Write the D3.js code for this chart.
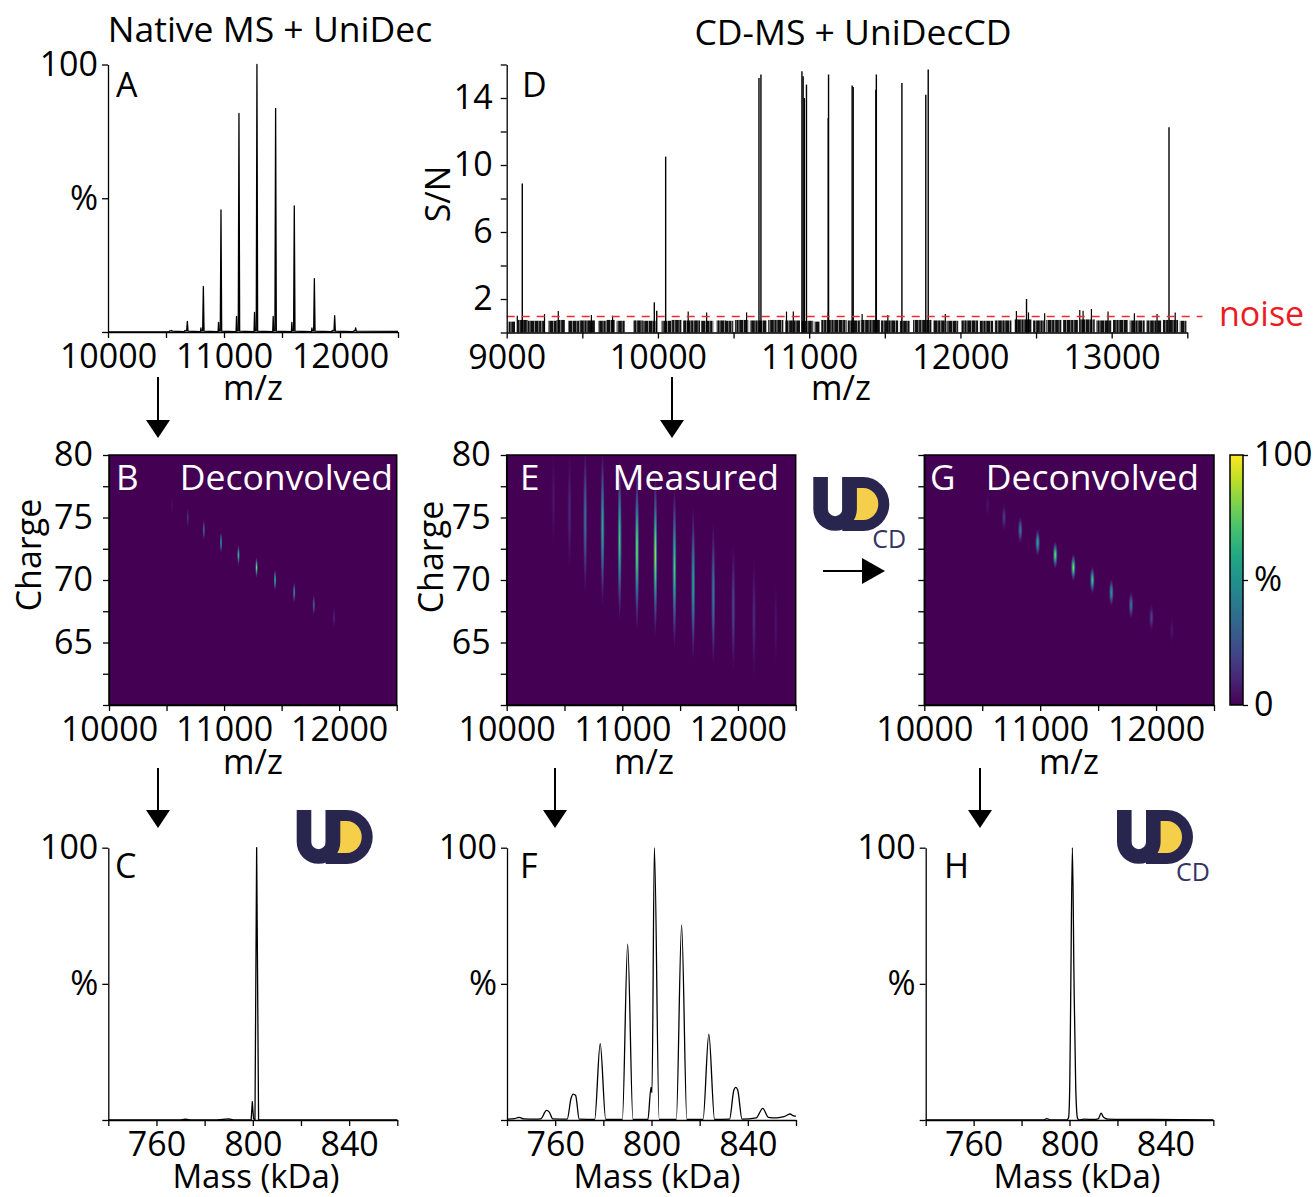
<!DOCTYPE html>
<html><head><meta charset="utf-8">
<script src="https://cdn.jsdelivr.net/npm/d3@7"></script>
<style>body{margin:0;background:#fff} svg{display:block} text{font-family:'Open Sans',sans-serif;}</style>
</head><body><svg id="c" width="1314" height="1197"></svg>
<script>
// ---------------- DATA ----------------
const titles = ["Native MS + UniDec", "CD-MS + UniDecCD"];
const mzTicks = [10000, 10500, 11000, 11500, 12000, 12500];
const mzLabels = [10000, 11000, 12000];
const mzTicksD = [9000, 9500, 10000, 10500, 11000, 11500, 12000, 12500, 13000, 13500];
const mzLabelsD = [9000, 10000, 11000, 12000, 13000];
const snTicks = [0, 2, 4, 6, 8, 10, 12, 14, 16];
const snLabels = [2, 6, 10, 14];
const chargeTicks = [60, 62.5, 65, 67.5, 70, 72.5, 75, 77.5, 80];
const chargeLabels = [65, 70, 75, 80];
const massTicks = [740, 760, 780, 800, 820, 840, 860];
const massLabels = [760, 800, 840];

// Panel A: native MS peaks (m/z, % intensity, shoulder %)
const A_mz  = [10549, 10684, 10822, 10974, 11129, 11284, 11445, 11606, 11779, 11954, 12135];
const A_int = [0.6, 4, 17, 45.6, 81.7, 100, 83.6, 47.1, 19.9, 6.1, 1.5];
const A_sh  = [0.2, 0.6, 1.5, 3.6, 5.8, 7.3, 5.8, 3.6, 1.5, 0.6, 0.2];

// Panel D: CD-MS signal lines (m/z, S/N)
const D_mz = [9103, 9976, 9992, 10051, 10668, 10681, 10952, 10960, 10968, 10982, 11126, 11128, 11284, 11291, 11441, 11444, 11613, 11771, 11787, 12437, 13379];
const D_sn = [8.9, 1.8, 1.3, 10.5, 15.2, 15.4, 15.6, 15.3, 14.0, 14.8, 12.8, 15.4, 14.75, 14.65, 14.5, 15.4, 14.9, 14.2, 15.7, 2.0, 12.25];
// Noise band segments (m/z start, m/z end, S/N)
const noiseSeg = [
  [9011,9055,0.65],[9071,9140,0.75],[9140,9253,0.7],[9275,9330,0.7],[9330,9385,0.75],[9407,9480,0.7],
  [9480,9583,0.72],[9605,9660,0.7],[9660,9716,0.75],[9727,9782,0.7],[9837,9900,0.72],[9900,9991,0.7],
  [10024,10090,0.7],[10090,10156,0.75],[10167,10278,0.72],[10284,10366,0.7],[10388,10450,0.72],[10450,10498,0.7],
  [10509,10597,0.75],[10608,10718,0.72],[10729,10829,0.75],[10840,10939,0.72],[10950,11027,0.7],[11035,11071,0.65],
  [11080,11248,0.75],[11255,11335,0.72],[11341,11467,0.75],[11474,11588,0.72],[11599,11665,0.7],[11687,11808,0.75],
  [11819,11897,0.72],[11908,11985,0.7],[12007,12117,0.72],[12128,12216,0.7],[12227,12337,0.72],[12359,12469,0.78],
  [12480,12557,0.72],[12568,12668,0.75],[12679,12778,0.75],[12789,12888,0.78],[12899,12998,0.72],[13009,13108,0.75],
  [13119,13218,0.72],[13229,13328,0.72],[13339,13439,0.75],[13450,13494,0.7]];
// Taller noise spikes (m/z, S/N)
const noiseSpk_mz = [9070, 9250, 9341, 9560, 9700, 10200, 10322, 10586, 10850, 10895, 11126, 11350, 11520, 11900, 12370, 12450, 12557, 12789, 12811, 12866, 12976, 13150, 13300, 13420];
const noiseSpk_sn = [1.0, 1.1, 1.28, 1.05, 1.0, 1.25, 1.2, 1.2, 1.25, 1.25, 1.2, 1.1, 1.05, 1.1, 1.28, 1.2, 1.15, 1.35, 1.3, 1.4, 1.25, 1.15, 1.1, 1.2];
const noiseLevel = 0.95;

// Panel B: deconvolved (native) m/z-charge blobs
const B_mz  = [10547, 10684, 10824, 10973, 11125, 11282, 11443, 11609, 11779, 11955];
const B_z   = [76, 75, 74, 73, 72, 71, 70, 69, 68, 67];
const B_int = [0.04, 0.15, 0.35, 0.55, 0.7, 0.85, 0.7, 0.5, 0.35, 0.12];
// Panel E: measured CD-MS streaks
const E_mz  = [10404, 10543, 10679, 10829, 10977, 11127, 11286, 11451, 11613, 11787, 11960, 12139, 12327];
const E_z   = [76.5, 75.5, 74.8, 74.2, 73.2, 72.4, 72, 71, 69.7, 68.9, 67.8, 67, 66.5];
const E_int = [0.06, 0.12, 0.38, 0.62, 0.75, 0.87, 0.9, 0.75, 0.6, 0.42, 0.22, 0.12, 0.05];
const E_zw  = [4, 5, 6, 6.3, 6.5, 6.5, 6.5, 6.5, 6.2, 5.8, 5.3, 5, 4];
// Panel G: deconvolved CD-MS blobs
const G_mz  = [10547, 10688, 10828, 10978, 11130, 11286, 11450, 11614, 11784, 11960, 12136];
const G_z   = [76, 75, 74, 73, 72, 71, 70, 69, 68, 67, 66];
const G_int = [0.05, 0.18, 0.4, 0.6, 0.85, 0.88, 0.75, 0.55, 0.4, 0.2, 0.06];

// Panel C: UniDec mass spectrum (kDa, %)
const C_mass = [740, 770, 772, 774, 785, 790, 792, 799.3, 799.8, 800.3, 800.9, 801.6, 802.4, 860];
const C_int  = [0, 0, 0.3, 0, 0, 0.4, 0, 0, 6.7, 0.5, 0, 100, 0, 0];
// Panel F: CD-MS direct mass spectrum
const F_mass = [740,743,745,747,752, 754,756.4,757.5,759, 765,766.6,767.5,768.5,770, 776.4,778.7,781,
  787.9,790.1,792.3, 798.5,799.8,800.2,801.2,803.2, 810.3,812.5,814.7, 821.4,823.8,826.2, 832.4,834.2,835,835.8,837.6,
  843.5,846.2,848.5, 852,855,857.5,859,860];
const F_int  = [0.3,0.5,1.0,0.4,0.3, 0.4,3.5,3.0,0.4, 0.3,8,9.5,9,0.3, 0.2,28,0.2,
  0.2,64.6,0.2, 0.2,12,10,100,0.2, 0.2,71.6,0.2, 0.2,31.5,0.2, 0.3,11,12,11,0.3,
  0.8,4.3,1.0, 0.8,1.2,2.2,1.5,1.4];
// Panel H: UniDecCD mass spectrum
const H_mass = [740, 789, 790.6, 792, 798.9, 799.6, 800.1, 800.5, 801.2, 801.9, 802.6, 803.3, 803.9, 806, 810, 812, 813.2, 814, 815, 816, 822, 830, 860];
const H_int  = [0, 0, 0.5, 0, 0, 0.8, 12, 45, 100, 50, 12, 0.8, 0, 0.3, 0.2, 0.4, 2.5, 1.2, 0.6, 0.3, 0.2, 0.2, 0];

// ---------------- DRAWING ----------------
const svg = d3.select("#c");
const defs = svg.append("defs");
const FONT = "Open Sans";
const viridis = d3.scaleSequential(d3.interpolateViridis).domain([0, 1]);

function styleAxis(sel) {
  sel.attr("font-family", FONT).attr("font-size", 34);
  sel.selectAll("path,line").attr("stroke", "#000").attr("stroke-width", 1.3);
  sel.selectAll("text").attr("fill", "#000");
}
function bottomAxis(g, x, y0, ticks, labels) {
  g.append("g").attr("transform", `translate(0,${y0})`)
    .call(d3.axisBottom(x).tickValues(ticks).tickFormat(d => labels.includes(d) ? String(d) : "")
      .tickSize(6).tickSizeOuter(0).tickPadding(6))
    .call(styleAxis);
}
function leftAxis(g, y, x0, ticks, fmt, pad) {
  g.append("g").attr("transform", `translate(${x0},0)`)
    .call(d3.axisLeft(y).tickValues(ticks).tickFormat(fmt).tickSize(6).tickSizeOuter(0).tickPadding(pad))
    .call(styleAxis);
}
function text(g, x, y, s, o = {}) {
  return g.append("text").attr("x", x).attr("y", y).text(s)
    .attr("font-family", FONT).attr("font-size", o.size || 34)
    .attr("fill", o.fill || "#000").attr("text-anchor", o.anchor || "start");
}
function vtext(g, x, y, s) {
  g.append("text").attr("transform", `translate(${x},${y}) rotate(-90)`).text(s)
    .attr("font-family", FONT).attr("font-size", 34).attr("text-anchor", "middle")
    .attr("dominant-baseline", "central");
}
function downArrow(g, x, y1, y2) {
  g.append("line").attr("x1", x).attr("x2", x).attr("y1", y1).attr("y2", y2 - 14)
    .attr("stroke", "#000").attr("stroke-width", 2);
  g.append("path").attr("d", `M${x - 12},${y2 - 18} L${x + 12},${y2 - 18} L${x},${y2} Z`).attr("fill", "#000");
}
function rightArrow(g, x1, x2, y) {
  g.append("line").attr("x1", x1).attr("x2", x2 - 18).attr("y1", y).attr("y2", y)
    .attr("stroke", "#000").attr("stroke-width", 2);
  g.append("path").attr("d", `M${x2 - 23},${y - 13} L${x2 - 23},${y + 13} L${x2},${y} Z`).attr("fill", "#000");
}
function logo(g, x0, y0, cd) {
  const l = g.append("g").attr("transform", `translate(${x0},${y0})`);
  l.append("path").attr("d", "M29,0 H50 A26,27 0 0 1 50,54 H29 Z").attr("fill", "#28264f");
  l.append("path").attr("d", "M36,11 H50 A15,16 0 0 1 50,43 H36 Z").attr("fill", "#f5cf4a");
  l.append("path").attr("d", "M7.3,0 V32 A14.5,14.5 0 0 0 36.3,32 V0").attr("fill", "none")
    .attr("stroke", "#28264f").attr("stroke-width", 14.6);
  if (cd) text(l, 59, 71, "CD", { size: 25, fill: "#35345f" });
}
let gradId = 0;
function blob(g, cx, cy, rx, ry, I) {
  const id = "bg" + (gradId++);
  const grad = defs.append("radialGradient").attr("id", id);
  [[0, 1], [0.25, 0.8], [0.5, 0.45], [0.75, 0.15], [1, 0]].forEach(([o, f]) =>
    grad.append("stop").attr("offset", o).attr("stop-color", viridis(I * f)));
  g.append("ellipse").attr("cx", cx).attr("cy", cy).attr("rx", rx).attr("ry", ry).attr("fill", `url(#${id})`);
}
function heatPanel(x, y, mzArr, zArr, IArr, smz, szArr) {
  const [x0, x1] = x.range(), [y0, y1] = y.range();
  const g = svg.append("g");
  const cid = "clip" + (gradId++);
  defs.append("clipPath").attr("id", cid).append("rect").attr("x", x0).attr("y", y1).attr("width", x1 - x0).attr("height", y0 - y1);
  g.append("rect").attr("x", x0).attr("y", y1).attr("width", x1 - x0).attr("height", y0 - y1).attr("fill", viridis(0));
  const gb = g.append("g").attr("clip-path", `url(#${cid})`);
  mzArr.forEach((m, i) => {
    const sz = Array.isArray(szArr) ? szArr[i] : szArr;
    blob(gb, x(m), y(zArr[i]), x(m + smz) - x(m), y(zArr[i]) - y(zArr[i] + sz), IArr[i]);
  });
  return g;
}
function frame(g, x, y) {
  const [x0, x1] = x.range(), [y0, y1] = y.range();
  g.append("rect").attr("x", x0).attr("y", y1).attr("width", x1 - x0).attr("height", y0 - y1)
    .attr("fill", "none").attr("stroke", "#000").attr("stroke-width", 1.5);
}
function spectrum(g, x, y, xs, ys, curve) {
  g.append("path").datum(xs.map((v, i) => [v, ys[i]]))
    .attr("d", d3.line().x(d => x(d[0])).y(d => y(d[1])).curve(curve))
    .attr("fill", "none").attr("stroke", "#000").attr("stroke-width", 1.3).attr("stroke-linejoin", "round");
}

// noise texture pattern (dense thin bars)
const pat = defs.append("pattern").attr("id", "noisePat").attr("patternUnits", "userSpaceOnUse")
  .attr("width", 19).attr("height", 40);
pat.append("rect").attr("width", 19).attr("height", 40).attr("fill", "#111");
[[2.2, 0.7], [6.5, 0.6], [9.4, 0.8], [13.8, 0.6], [16.6, 0.7]].forEach(([px, w]) =>
  pat.append("rect").attr("x", px).attr("width", w).attr("height", 40).attr("fill", "#bbb"));

// Titles
text(svg, 270, 42, titles[0], { size: 35.5, anchor: "middle" });
text(svg, 853, 45, titles[1], { size: 35.5, anchor: "middle" });

// ---- Panel A ----
{
  const g = svg.append("g");
  const x = d3.scaleLinear().domain([10000, 12500]).range([108, 398]);
  const y = d3.scaleLinear().domain([0, 100]).range([332, 64.5]);
  const pts = [[10000, 0]];
  A_mz.forEach((c, i) => pts.push([c - 25, 0.1], [c - 21, A_sh[i]], [c - 17, 0.4], [c - 6, 0.4], [c, A_int[i]], [c + 6, 0.3]));
  pts.push([12500, 0.2]);
  spectrum(g, x, y, pts.map(d => d[0]), pts.map(d => d[1]), d3.curveLinear);
  bottomAxis(g, x, 332, mzTicks, mzLabels);
  leftAxis(g, y, 108, [0, 50, 100], d => d === 100 ? "100" : d === 50 ? "%" : "", 4);
  text(g, 253, 400, "m/z", { anchor: "middle" });
  text(g, 116, 97, "A", { size: 34 });
}
// ---- Panel D ----
{
  const g = svg.append("g");
  const x = d3.scaleLinear().domain([9000, 13500]).range([506.7, 1187.3]);
  const y = d3.scaleLinear().domain([0, 16]).range([332.5, 64.5]);
  g.selectAll(".ns").data(noiseSeg).join("rect")
    .attr("x", d => x(d[0])).attr("width", d => x(d[1]) - x(d[0]))
    .attr("y", d => y(d[2])).attr("height", d => y(0) - y(d[2])).attr("fill", "url(#noisePat)");
  g.selectAll(".nk").data(noiseSpk_mz).join("line")
    .attr("x1", d => x(d)).attr("x2", d => x(d)).attr("y1", y(0)).attr("y2", (d, i) => y(noiseSpk_sn[i]))
    .attr("stroke", "#000").attr("stroke-width", 1.2);
  g.selectAll(".sg").data(D_mz).join("line")
    .attr("x1", d => x(d)).attr("x2", d => x(d)).attr("y1", y(0)).attr("y2", (d, i) => y(D_sn[i]))
    .attr("stroke", "#000").attr("stroke-width", 1.4);
  g.append("line").attr("x1", x(9000)).attr("x2", x(13600)).attr("y1", y(noiseLevel)).attr("y2", y(noiseLevel))
    .attr("stroke", "#ee2a2a").attr("stroke-width", 1.5).attr("stroke-dasharray", "8,7");
  text(g, 1219, 326, "noise", { size: 34, fill: "#ec1c24" });
  bottomAxis(g, x, 332.5, mzTicksD, mzLabelsD);
  leftAxis(g, y, 506.7, snTicks, d => snLabels.includes(d) ? String(d) : "", 8);
  text(g, 841, 400, "m/z", { anchor: "middle" });
  vtext(g, 437, 194, "S/N");
  text(g, 522, 97, "D", { size: 34 });
}
// ---- Panel B ----
{
  const x = d3.scaleLinear().domain([10000, 12500]).range([109, 396.7]);
  const y = d3.scaleLinear().domain([60, 80]).range([705, 455]);
  const g = heatPanel(x, y, B_mz, B_z, B_int, 13, 0.85);
  frame(g, x, y);
  bottomAxis(g, x, 705, mzTicks, mzLabels);
  leftAxis(g, y, 109, chargeTicks, d => chargeLabels.includes(d) ? String(d) : "", 10);
  text(g, 253, 774, "m/z", { anchor: "middle" });
  vtext(g, 28, 555, "Charge");
  text(g, 116, 490, "B", { size: 35, fill: "#fff" });
  text(g, 393, 490, "Deconvolved", { size: 35.5, fill: "#fff", anchor: "end" });
}
// ---- Panel E ----
{
  const x = d3.scaleLinear().domain([10000, 12500]).range([506.7, 795.7]);
  const y = d3.scaleLinear().domain([60, 80]).range([705, 455]);
  const g = heatPanel(x, y, E_mz, E_z, E_int, 20, E_zw);
  frame(g, x, y);
  bottomAxis(g, x, 705, mzTicks, mzLabels);
  leftAxis(g, y, 506.7, chargeTicks, d => chargeLabels.includes(d) ? String(d) : "", 10);
  text(g, 644, 774, "m/z", { anchor: "middle" });
  vtext(g, 430, 557, "Charge");
  text(g, 520, 490, "E", { size: 35, fill: "#fff" });
  text(g, 779, 490, "Measured", { size: 35.5, fill: "#fff", anchor: "end" });
}
// ---- Panel G ----
{
  const x = d3.scaleLinear().domain([10000, 12500]).range([924.3, 1214]);
  const y = d3.scaleLinear().domain([60, 80]).range([705, 455]);
  const g = heatPanel(x, y, G_mz, G_z, G_int, 22, 1.1);
  frame(g, x, y);
  bottomAxis(g, x, 705, mzTicks, mzLabels);
  leftAxis(g, y, 924.3, chargeTicks, d => "", 10);
  text(g, 1069, 774, "m/z", { anchor: "middle" });
  text(g, 930, 490, "G", { size: 35, fill: "#fff" });
  text(g, 1199, 490, "Deconvolved", { size: 35.5, fill: "#fff", anchor: "end" });
  // colorbar
  const cb = d3.scaleLinear().domain([0, 100]).range([705, 455]);
  const lg = defs.append("linearGradient").attr("id", "cbar").attr("x1", 0).attr("x2", 0).attr("y1", 1).attr("y2", 0);
  d3.range(0, 1.0001, 0.1).forEach(t => lg.append("stop").attr("offset", t).attr("stop-color", viridis(t)));
  g.append("rect").attr("x", 1230).attr("y", 455).attr("width", 13).attr("height", 250)
    .attr("fill", "url(#cbar)").attr("stroke", "#000").attr("stroke-width", 1.5);
  g.append("g").attr("transform", "translate(1243,0)")
    .call(d3.axisRight(cb).tickValues([0, 50, 100]).tickFormat(d => d === 0 ? "0" : d === 50 ? "%" : "100")
      .tickSize(5).tickSizeOuter(0).tickPadding(6))
    .call(styleAxis).call(s => s.select(".domain").remove());
}
// ---- Panel C ----
{
  const g = svg.append("g");
  const x = d3.scaleLinear().domain([740, 860]).range([108.3, 397.3]);
  const y = d3.scaleLinear().domain([0, 100]).range([1120, 847.7]);
  spectrum(g, x, y, C_mass, C_int, d3.curveLinear);
  bottomAxis(g, x, 1120, massTicks, massLabels);
  leftAxis(g, y, 108.3, [0, 50, 100], d => d === 100 ? "100" : d === 50 ? "%" : "", 4);
  text(g, 256, 1188, "Mass (kDa)", { size: 33, anchor: "middle" });
  text(g, 115, 878, "C", { size: 34 });
}
// ---- Panel F ----
{
  const g = svg.append("g");
  const x = d3.scaleLinear().domain([740, 860]).range([507, 796]);
  const y = d3.scaleLinear().domain([0, 100]).range([1120, 847.7]);
  spectrum(g, x, y, F_mass, F_int, d3.curveMonotoneX);
  bottomAxis(g, x, 1120, massTicks, massLabels);
  leftAxis(g, y, 507, [0, 50, 100], d => d === 100 ? "100" : d === 50 ? "%" : "", 4);
  text(g, 657, 1188, "Mass (kDa)", { size: 33, anchor: "middle" });
  text(g, 520, 878, "F", { size: 34 });
}
// ---- Panel H ----
{
  const g = svg.append("g");
  const x = d3.scaleLinear().domain([740, 860]).range([925.7, 1213.3]);
  const y = d3.scaleLinear().domain([0, 100]).range([1120, 847.7]);
  spectrum(g, x, y, H_mass, H_int, d3.curveMonotoneX);
  bottomAxis(g, x, 1120, massTicks, massLabels);
  leftAxis(g, y, 925.7, [0, 50, 100], d => d === 100 ? "100" : d === 50 ? "%" : "", 4);
  text(g, 1077, 1188, "Mass (kDa)", { size: 33, anchor: "middle" });
  text(g, 944, 878, "H", { size: 34 });
}

// Arrows & logos
downArrow(svg, 158, 377, 438);
downArrow(svg, 672, 377, 438);
downArrow(svg, 158, 768, 828);
downArrow(svg, 555, 768, 828);
downArrow(svg, 980, 768, 828);
rightArrow(svg, 823, 885, 571);
logo(svg, 296.7, 810, false);
logo(svg, 813.3, 477, true);
logo(svg, 1117, 810, true);
</script></body></html>
